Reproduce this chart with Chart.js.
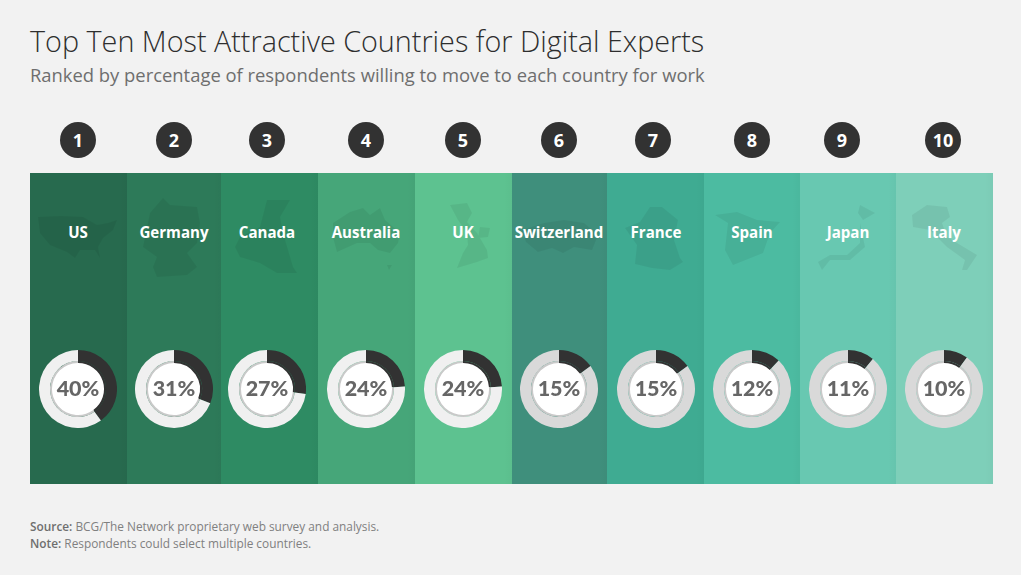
<!DOCTYPE html>
<html>
<head>
<meta charset="utf-8">
<script src="https://cdn.jsdelivr.net/npm/chart.js@4"></script>
<style>
  html, body { margin: 0; padding: 0; background: #f2f2f2; }
  #page { position: relative; width: 1021px; height: 575px; overflow: hidden; font-family: "Open Sans", sans-serif; }
  #page > * { position: absolute; }
  .title { left: 30px; top: 21px; font-size: 28.75px; font-weight: 300; color: #2e2e2e; white-space: nowrap; }
  .subtitle { left: 30px; top: 62px; font-size: 18.4px; color: #6e6e6e; white-space: nowrap; }
  .column { top: 173px; height: 311px; background-image: linear-gradient(to left, rgba(0,0,0,0.02), rgba(0,0,0,0) 8px); }
  .rank { width: 36px; height: 36px; top: 122px; border-radius: 50%; background: #323232; color: #fff; font: 700 18px/37px "Open Sans", sans-serif; text-align: center; }
  .name { top: 222px; width: 110px; text-align: center; color: #fff; font-size: 15.1px; font-weight: 700; }
  .map { top: 190px; width: 90px; height: 90px; }
  .disc { top: 362px; width: 54px; height: 54px; border-radius: 50%; background: #fff; }
  .ring { top: 350px; width: 78px; height: 78px; }
  .percent { top: 375px; width: 60px; text-align: center; color: #666; font: 900 21.5px/26px Lato, sans-serif; }
  .note { left: 30px; font-size: 11.85px; color: #808080; white-space: nowrap; }
  .note b { font-weight: 600; color: #6e6e6e; }
</style>
</head>
<body>
<div id="page">
  <div class="title">Top Ten Most Attractive Countries for Digital Experts</div>
  <div class="subtitle">Ranked by percentage of respondents willing to move to each country for work</div>
  <div class="note" style="top:518px"><b>Source:</b> BCG/The Network proprietary web survey and analysis.</div>
  <div class="note" style="top:535px"><b>Note:</b> Respondents could select multiple countries.</div>
</div>
<script>
const countries = ["US", "Germany", "Canada", "Australia", "UK", "Switzerland", "France", "Spain", "Japan", "Italy"];
const ranks = [1, 2, 3, 4, 5, 6, 7, 8, 9, 10];
const percents = [40, 31, 27, 24, 24, 15, 15, 12, 11, 10];

const columnEdges = [30, 127, 221, 318, 415, 512, 607, 704, 800, 896, 993];
const columnColors = ["#276a4e", "#2d7a59", "#2e8b63", "#46a679", "#5dc290", "#3f8f7c", "#3fab92", "#4cbba1", "#68c8b1", "#7ecfb9"];
const ringCenters = [78, 174, 267, 366, 463, 559, 656, 752, 848, 944];
const rankCenters = [78, 174, 267, 366, 463, 559, 653, 752, 842, 943];
const trackColors = ["#f0f0f0", "#f0f0f0", "#f0f0f0", "#f0f0f0", "#f0f0f0", "#d9d9d9", "#d9d9d9", "#d9d9d9", "#d9d9d9", "#d9d9d9"];

// rough outlines, only decoration behind the names
const mapShapes = [
  "M5 27 L28 26 L50 27 L64 35 L75 33 L84 30 L80 40 L70 48 L65 57 L67 68 L62 60 L47 60 L42 68 L34 62 L17 55 L7 43Z",
  "M34 8 L41 15 L68 17 L71 33 L68 53 L58 63 L68 77 L58 85 L28 87 L24 77 L28 67 L14 57 L21 23Z",
  "M45 10 L68 10 L58 27 L61 43 L71 77 L75 83 L55 83 L38 73 L18 67 L13 57 L18 47 L38 37Z",
  "M12 33 L29 22 L42 18 L49 25 L59 18 L64 30 L79 43 L77 53 L69 63 L57 60 L49 53 L36 53 L16 62 L12 47Z M66 75 L71 75 L68 80Z",
  "M32 15 L49 13 L54 23 L49 32 L59 43 L69 60 L70 68 L59 72 L39 78 L45 63 L50 55 L49 43 L40 30Z M62 37 L72 38 L70 47 L60 48Z",
  "M8 40 L30 33 L50 30 L70 33 L84 45 L78 60 L60 57 L49 63 L38 58 L24 62 L12 52Z",
  "M14 38 L29 32 L39 17 L51 17 L67 30 L63 50 L69 68 L72 72 L59 80 L41 78 L24 74 L26 55Z",
  "M8 25 L30 22 L50 30 L73 32 L63 43 L56 63 L26 75 L18 60 L21 33Z",
  "M57 15 L72 23 L60 30 L55 23Z M57 33 L57 53 L44 65 L27 65 L15 72 L19 80 L27 70 L47 70 L62 57Z",
  "M13 25 L28 15 L48 17 L51 27 L43 33 L48 47 L78 65 L68 80 L63 80 L66 70 L48 57 L31 40 L14 37Z"
];

const page = document.getElementById("page");

function addDiv(className, left, text) {
  const el = document.createElement("div");
  el.className = className;
  el.style.left = left + "px";
  if (text !== undefined) el.textContent = text;
  page.appendChild(el);
  return el;
}

countries.forEach((name, i) => {
  const column = addDiv("column", columnEdges[i]);
  column.style.width = (columnEdges[i + 1] - columnEdges[i]) + "px";
  column.style.backgroundColor = columnColors[i];
  addDiv("rank", rankCenters[i] - 18, ranks[i]);

  const map = addDiv("map", ringCenters[i] - 45);
  map.innerHTML = `<svg width="90" height="90" viewBox="0 0 90 90"><path d="${mapShapes[i]}" fill="#000" fill-opacity="0.06"/></svg>`;
  addDiv("name", ringCenters[i] - 55, name);
  addDiv("disc", ringCenters[i] - 27);

  const holder = addDiv("ring", ringCenters[i] - 39);
  const canvas = document.createElement("canvas");
  holder.appendChild(canvas);
  const rest = 100 - percents[i];
  new Chart(canvas, {
    type: "doughnut",
    data: {
      datasets: [
        { data: [percents[i], rest], backgroundColor: ["#323232", trackColors[i]], borderWidth: 0, weight: 11 },
        { data: [percents[i], rest], backgroundColor: ["#323232", "#c9c9c9"], borderWidth: 0, weight: 2 },
      ],
    },
    options: {
      responsive: true,
      maintainAspectRatio: true,
      animation: false,
      cutout: "66.7%",
      layout: { padding: 0 },
      plugins: { legend: { display: false }, tooltip: { enabled: false } },
    },
  });
  addDiv("percent", ringCenters[i] - 30, percents[i] + "%");
});
</script>
</body>
</html>
